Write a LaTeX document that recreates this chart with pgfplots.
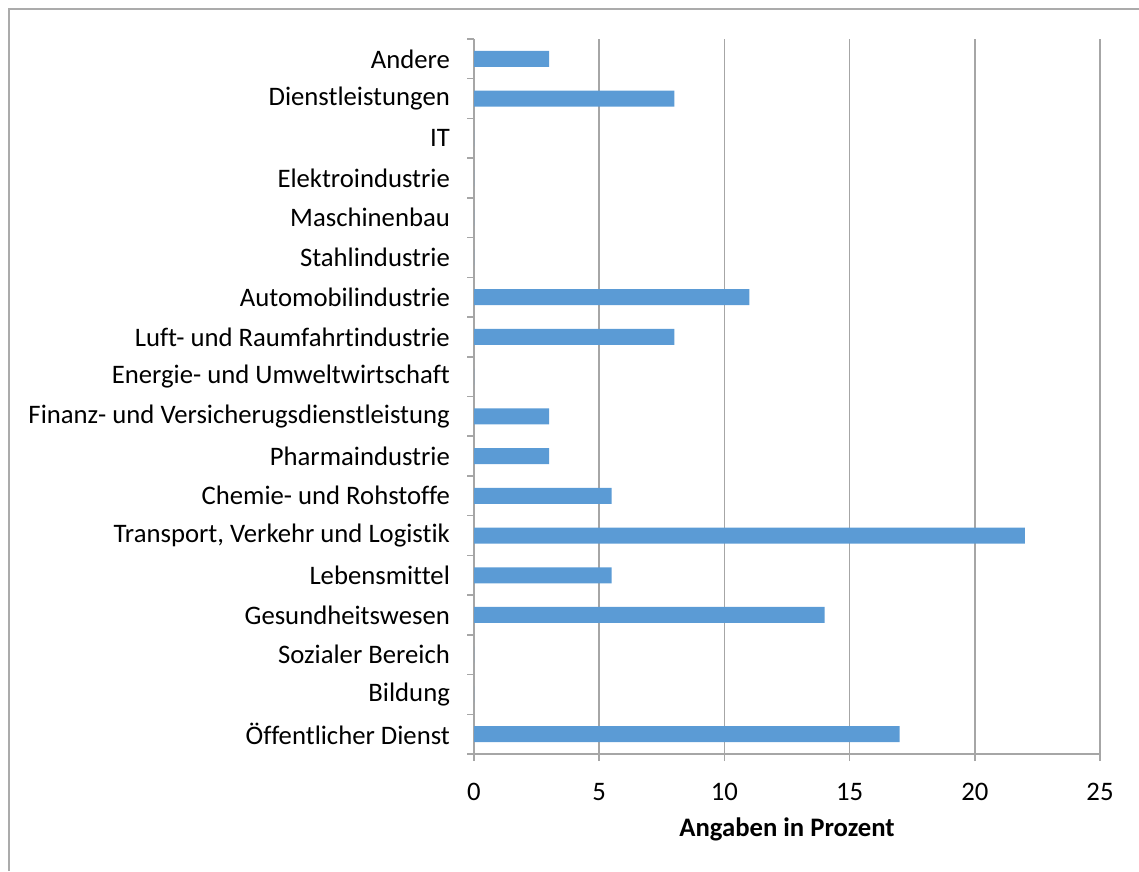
\documentclass[border=0pt]{standalone}
\usepackage{pgfplots}
\pgfplotsset{compat=1.18}
\usepackage{fontspec}
\setmainfont{Carlito}[Ligatures={NoCommon}]
\definecolor{barblue}{HTML}{5B9BD5}
\definecolor{gridgray}{HTML}{A6A6A6}
\definecolor{framegray}{HTML}{ABABAB}
\begin{document}
\fontsize{26.7}{31}\selectfont
\begin{tikzpicture}[x=1pt,y=1pt]
\useasboundingbox (0,0) rectangle (1139,871);
\draw[framegray, line width=2pt] (9,0) -- (9,862) -- (1139,862);
\begin{axis}[
  at={(474pt,117pt)}, anchor=south west,
  scale only axis, width=626pt, height=715pt,
  xmin=0, xmax=25, ymin=-0.5, ymax=17.5,
  xbar, bar width=16pt,
  axis x line*=bottom, axis y line*=left,
  axis line style={gridgray, line width=1.5pt, -},
  xtick={0,5,...,25},
  xmajorgrids=true,
  grid style={gridgray, line width=1.5pt},
  ytick={0,...,17},
  yticklabels={Öffentlicher Dienst,Bildung,Sozialer Bereich,Gesundheitswesen,Lebensmittel,{Transport, Verkehr und Logistik},Chemie- und Rohstoffe,Pharmaindustrie,Finanz- und Versicherugsdienstleistung,Energie- und Umweltwirtschaft,Luft- und Raumfahrtindustrie,Automobilindustrie,Stahlindustrie,Maschinenbau,Elektroindustrie,IT,Dienstleistungen,Andere},
  minor ytick={-0.5,0.5,...,17.5},
  tick align=outside,
  x tick style={gridgray, line width=1.5pt},
  y tick style={gridgray, line width=1.5pt},
  major tick length=7pt, minor tick length=7pt,
  ytick style={draw=none},
  minor y tick style={gridgray, line width=1.5pt, draw=gridgray},
  /pgf/number format/assume math mode=true,
  tick label style={font=\fontsize{26.7}{31}\selectfont},
  yticklabel style={anchor=east, xshift=-8pt},
  xticklabel style={anchor=north, yshift=-13pt},
  xlabel={\textbf{Angaben in Prozent}},
  xlabel style={font=\fontsize{26.7}{31}\selectfont, at={(axis description cs:0.5,0)}, anchor=center, yshift=-75pt},
]
\addplot[draw=none, fill=barblue] coordinates {
(17,0) (0,1) (0,2) (14,3) (5.5,4) (22,5) (5.5,6) (3,7) (3,8) (0,9) (8,10) (11,11) (0,12) (0,13) (0,14) (0,15) (8,16) (3,17)
};
\end{axis}
\end{tikzpicture}
\end{document}
